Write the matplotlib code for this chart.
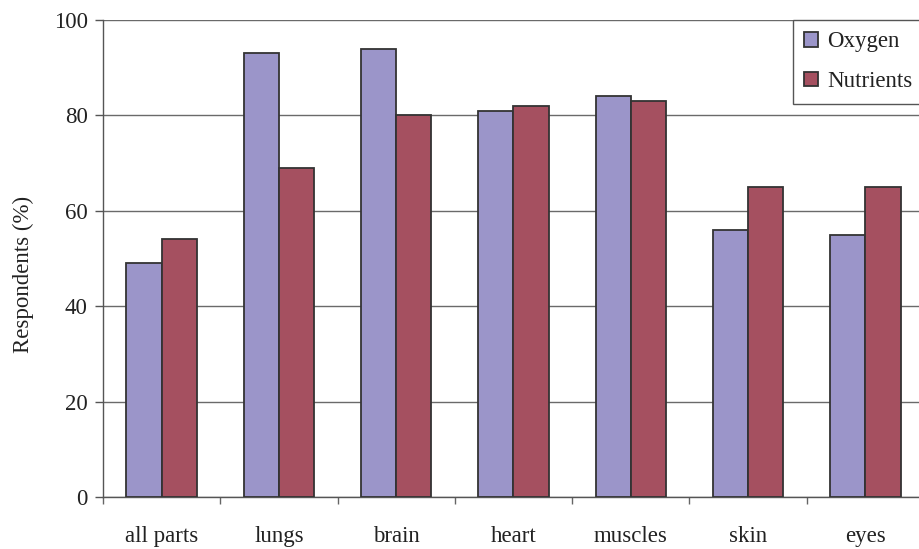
import numpy as np
import matplotlib.pyplot as plt
from matplotlib.ticker import FixedLocator

# data
categories = ["all parts", "lungs", "brain", "heart", "muscles", "skin", "eyes"]
oxygen = [49, 93, 94, 81, 84, 56, 55]
nutrients = [54, 69, 80, 82, 83, 65, 65]

plt.rcParams["font.family"] = ["Liberation Serif", "DejaVu Serif"]

fig = plt.figure(figsize=(9.2, 5.49), dpi=100)
ax = fig.add_axes([103 / 920, 1 - 497 / 549, 821 / 920, 477 / 549])

x = np.arange(len(categories))
w = 0.3
ax.bar(x - w / 2, oxygen, w, color="#9B95C9", edgecolor="#333333", linewidth=1.3, label="Oxygen", zorder=3)
ax.bar(x + w / 2, nutrients, w, color="#A55060", edgecolor="#333333", linewidth=1.3, label="Nutrients", zorder=3)

ax.set_xlim(-0.5, len(categories) - 0.5)
ax.set_ylim(0, 100)
ax.set_yticks([0, 20, 40, 60, 80, 100])
ax.yaxis.grid(True, color="#6a6a6a", linewidth=1.0, zorder=0)
ax.set_xticks(x)
ax.set_xticklabels(categories)
ax.xaxis.set_minor_locator(FixedLocator(np.arange(-0.5, len(categories), 1.0)))
ax.tick_params(axis="x", which="major", length=0, pad=21, labelsize=16.5, labelcolor="#222222")
ax.tick_params(axis="x", which="minor", length=5, color="#666666", width=1)
ax.tick_params(axis="y", length=6, color="#555555", width=1, labelsize=16.5, pad=5, labelcolor="#222222")
ax.set_ylabel("Respondents (%)", fontsize=16.5, color="#222222")
ax.yaxis.set_label_coords(-0.084, 0.466)

for s in ["top", "right"]:
    ax.spines[s].set_visible(False)
for s in ["left", "bottom"]:
    ax.spines[s].set_color("#555555")
    ax.spines[s].set_linewidth(1.0)

leg = fig.legend(loc="upper left", bbox_to_anchor=(793 / 920, 1 - 20 / 549),
                 frameon=True, fancybox=False, framealpha=1, edgecolor="#555555",
                 fontsize=16.5, handlelength=0.6, handleheight=0.6, handletextpad=0.4,
                 borderaxespad=0, labelspacing=0.82, borderpad=0.5)
leg.get_frame().set_linewidth(1.0)
for t in leg.get_texts():
    t.set_color("#222222")

fig.savefig("out.png", dpi=100)
